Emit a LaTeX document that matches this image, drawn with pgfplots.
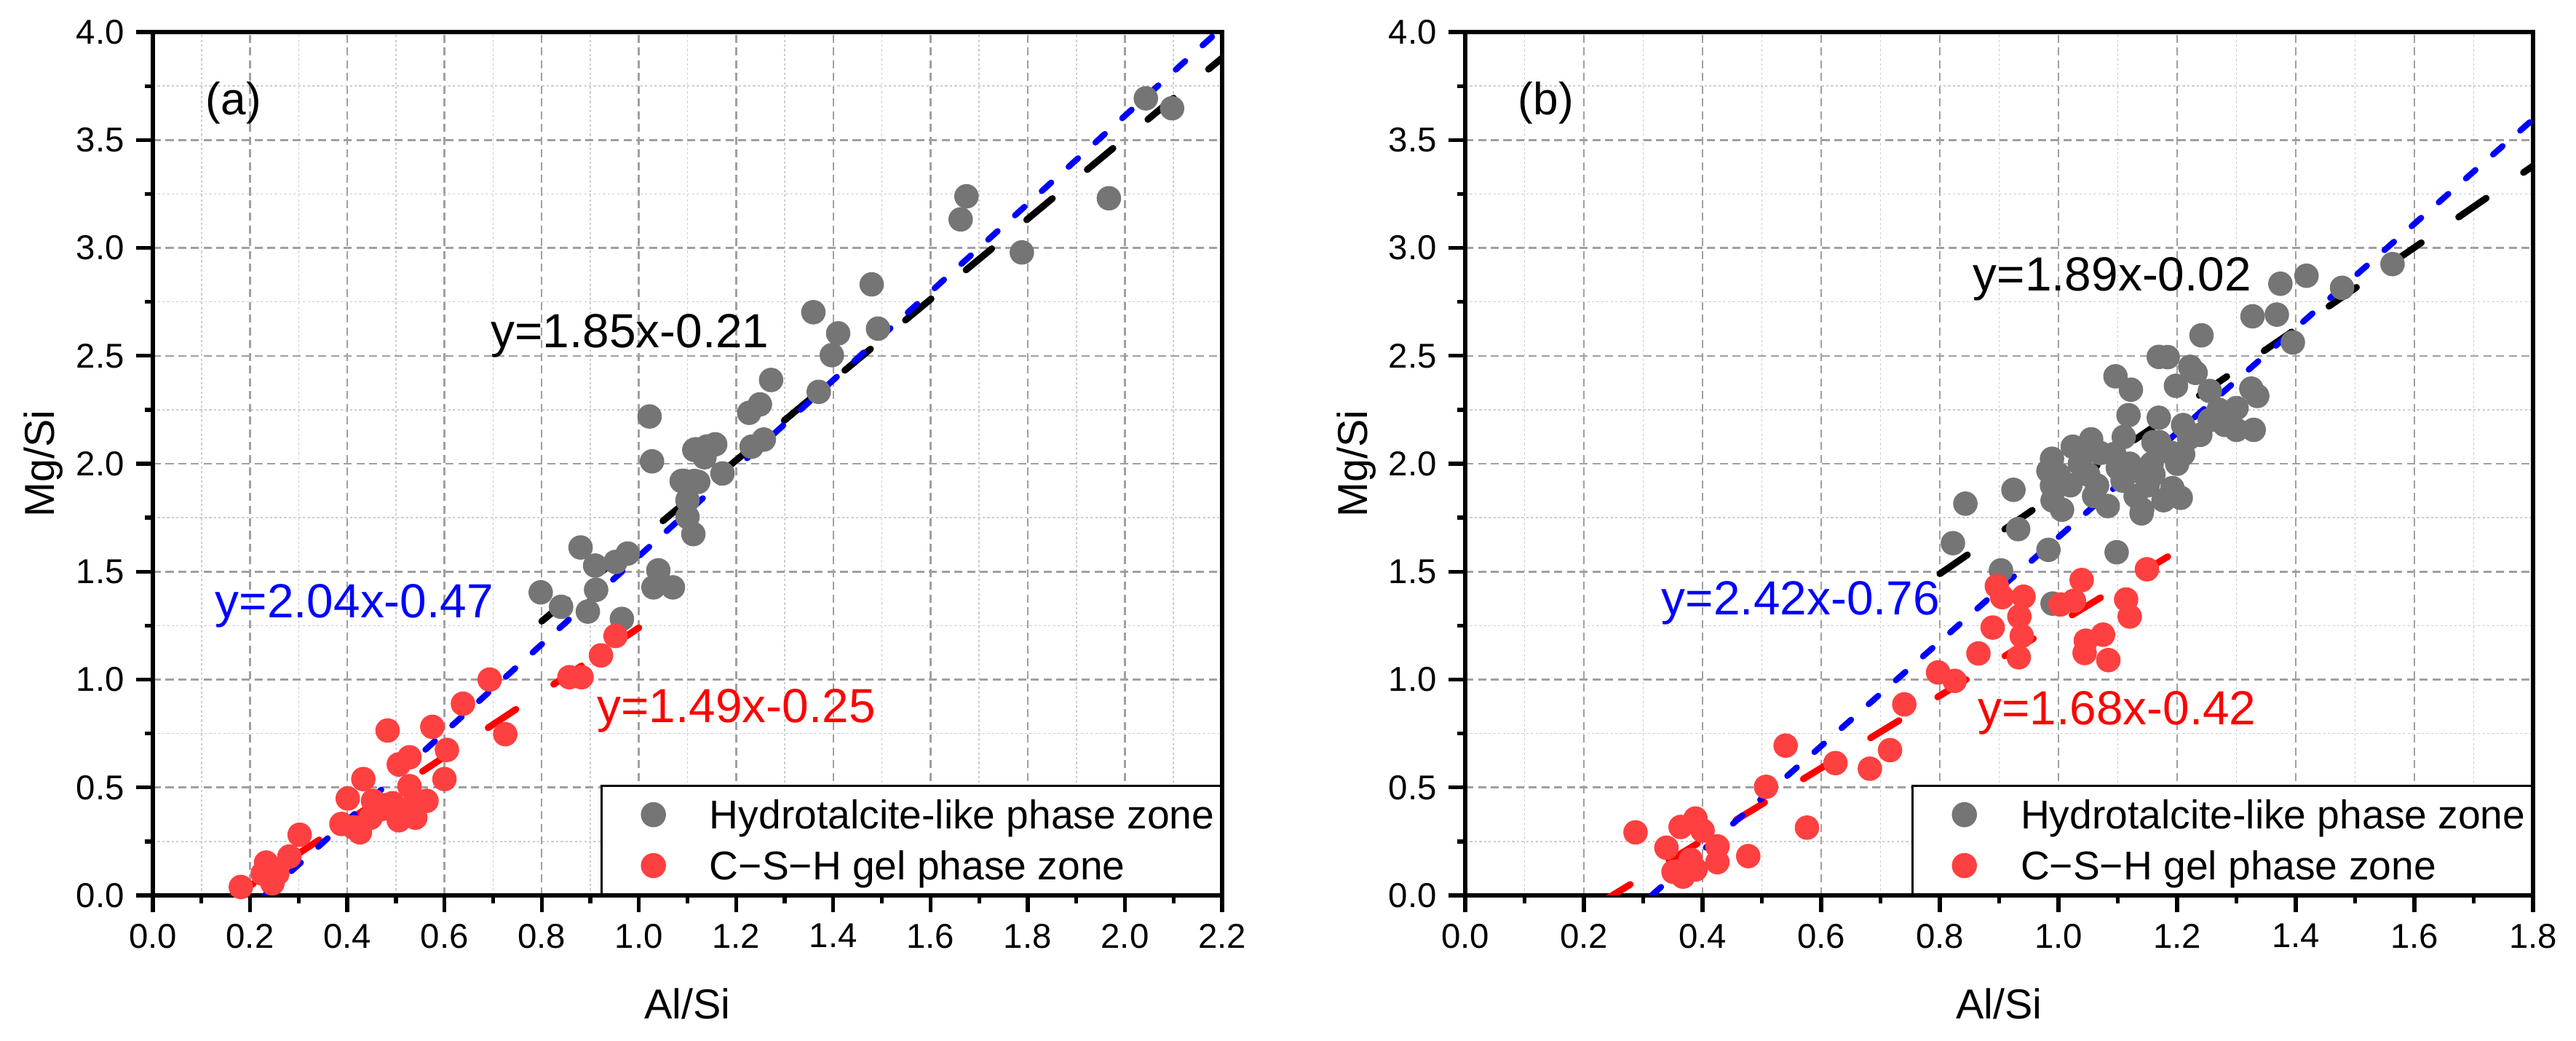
\documentclass[border=0pt]{standalone}
\usepackage{fontspec}
\setmainfont{Liberation Sans}
\usepackage{pgfplots}
\pgfplotsset{compat=1.18}
\definecolor{ptgray}{RGB}{117,117,117}
\definecolor{ptred}{RGB}{255,64,64}
\definecolor{majgrid}{RGB}{160,160,160}
\definecolor{mingrid}{RGB}{205,205,205}
\tikzset{
  eqlab/.style={anchor=base west, inner sep=0pt, font=\fontsize{14.3}{16}\selectfont},
  panlab/.style={font=\fontsize{13.5}{16}\selectfont},
}
\pgfplotsset{
  myaxis/.style={
    scale only axis, height=257.8pt, anchor=south west,
    xmin=0, ymin=0, ymax=4,
    ytick={0,0.5,...,4}, minor y tick num=1, minor x tick num=1,
    tick align=outside, xtick pos=left, ytick pos=left,
    major tick length=5pt, minor tick length=2.4pt,
    every tick/.style={black, line width=1.15pt},
    axis line style={line width=1.15pt},
    grid=both,
    major grid style={majgrid, line width=0.55pt, dash pattern=on 2.4pt off 1.4pt},
    minor grid style={mingrid, line width=0.35pt, dash pattern=on 0.7pt off 0.7pt},
    tick label style={font=\fontsize{10.3}{12}\selectfont},
    /pgf/number format/assume math mode=true,
    xticklabel style={/pgf/number format/.cd, fixed, fixed zerofill, precision=1},
    yticklabel style={/pgf/number format/.cd, fixed, fixed zerofill, precision=1},
    label style={font=\fontsize{12.5}{14}\selectfont},
    xlabel={Al/Si}, ylabel={Mg/Si},
    xlabel style={at={(axis description cs:0.5,-0.1433)}, anchor=base, inner sep=0pt},
    ylabel style={at={(axis description cs:-0.0919,0.5)}, anchor=base, inner sep=0pt},
    legend cell align=left,
    legend style={at={(1,0)}, anchor=south east, draw=black, line width=0.6pt,
      font=\fontsize{12}{14}\selectfont, inner xsep=0pt, inner ysep=4.3pt,
      row sep=6.6pt,
      nodes={inner xsep=2pt, inner ysep=0pt, text height=8.6pt, text depth=0pt},
      /tikz/every odd column/.append style={column sep=11pt}},
    legend image code/.code={\path (0pt,0pt) (18.7pt,0pt);
      \draw[mark repeat=2,mark phase=2,#1] plot coordinates {(0pt,0pt)(15.2pt,0pt)(18.7pt,0pt)};},
  },
  gpts/.style={only marks, mark=*, mark size=3.45pt, color=ptgray, mark options={draw=none, fill=ptgray}},
  rpts/.style={only marks, mark=*, mark size=3.45pt, color=ptred, mark options={draw=none, fill=ptred}},
  longdash/.style={line width=2pt, line cap=round, dash pattern=on 10pt off 13.5pt, forget plot},
  shortdash/.style={line width=1.8pt, line cap=round, dash pattern=on 3.8pt off 7pt, forget plot},
}
\begin{document}
\begin{tikzpicture}
\useasboundingbox (0,0) rectangle (769.3pt,310.85pt);
% ---------------- (a) ----------------
\begin{axis}[myaxis, at={(45.65pt,43.48pt)}, width=319.33pt,
  xmax=2.2, xtick={0,0.2,...,2.2}]
\addplot[gpts] table {
x y
0.798 1.404
0.840 1.337
0.880 1.612
0.910 1.528
0.912 1.416
0.895 1.315
0.952 1.545
0.977 1.584
0.965 1.281
1.022 2.219
1.027 2.011
1.040 1.506
1.030 1.427
1.070 1.427
1.092 1.921
1.122 1.916
1.100 1.831
1.100 1.753
1.112 1.674
1.117 2.067
1.140 2.080
1.157 2.090
1.172 1.955
1.227 2.236
1.249 2.275
1.272 2.388
1.232 2.079
1.257 2.112
1.370 2.333
1.359 2.702
1.410 2.604
1.492 2.626
1.397 2.503
1.479 2.831
1.662 3.132
1.674 3.239
1.788 2.979
1.967 3.230
2.043 3.693
2.097 3.647
1.114 2.064
1.088 1.920
1.114 1.920
1.135 2.030
};
\addlegendentry{Hydrotalcite-like phase zone}
\addplot[rpts] table {
x y
0.181 0.039
0.233 0.152
0.226 0.101
0.246 0.056
0.256 0.101
0.302 0.281
0.281 0.180
0.401 0.449
0.433 0.539
0.388 0.331
0.426 0.292
0.448 0.360
0.453 0.438
0.413 0.315
0.470 0.400
0.506 0.348
0.493 0.427
0.528 0.404
0.540 0.360
0.563 0.438
0.528 0.506
0.506 0.607
0.528 0.640
0.483 0.764
0.575 0.781
0.605 0.674
0.600 0.539
0.638 0.888
0.693 1.000
0.725 0.747
0.857 1.011
0.882 1.011
0.922 1.112
0.952 1.202
};
\addlegendentry{C\textminus S\textminus H gel phase zone}
\addplot[longdash, black] coordinates {(0.8,1.27) (2.2,3.88)};
\addplot[longdash, red] coordinates {(0.15,-0.03) (1.0,1.24)};
\addplot[shortdash, blue] coordinates {(0.23,0.0) (2.19,4.0)};
\node[panlab] at (axis cs:0.166,3.67) {(a)};
\node[eqlab, text=black] at (axis cs:0.694,2.537) {y=1.85x-0.21};
\node[eqlab, text=blue] at (axis cs:0.127,1.288) {y=2.04x-0.47};
\node[eqlab, text=red] at (axis cs:0.913,0.80) {y=1.49x-0.25};
\end{axis}
% ---------------- (b) ----------------
\begin{axis}[myaxis, at={(437.59pt,43.48pt)}, width=318.9pt,
  xmax=1.8, xtick={0,0.2,...,1.8}]
\addplot[gpts] table {
x y
0.843 1.815
0.822 1.632
0.924 1.879
0.932 1.697
0.903 1.506
0.983 1.601
1.006 1.787
0.989 1.899
0.989 2.023
0.983 1.967
1.024 2.079
1.055 2.113
1.036 2.000
1.065 1.899
1.083 1.804
1.098 1.590
1.096 2.405
1.122 2.343
1.118 2.225
1.110 2.124
1.094 2.045
1.108 1.922
1.141 1.787
1.135 1.967
1.169 2.495
0.990 1.352
1.140 1.770
1.563 2.925
1.418 2.871
1.374 2.834
1.478 2.815
1.327 2.683
1.368 2.691
1.241 2.595
1.395 2.562
1.184 2.494
1.222 2.449
1.231 2.421
1.198 2.361
1.255 2.337
1.325 2.348
1.335 2.314
1.300 2.258
1.329 2.157
1.300 2.157
1.255 2.202
1.239 2.134
1.210 2.179
1.210 2.044
1.169 2.213
1.157 2.000
1.192 1.887
1.206 1.842
1.177 1.831
1.050 1.950
1.070 2.050
1.120 2.000
1.150 1.900
1.160 2.100
1.130 1.850
1.060 1.850
1.000 1.950
1.020 1.900
1.170 2.100
1.190 2.050
1.220 2.120
1.200 2.000
1.160 1.950
1.270 2.250
1.280 2.180
1.100 1.980
1.040 2.050
0.990 1.830
};
\addlegendentry{Hydrotalcite-like phase zone}
\addplot[rpts] table {
x y
0.287 0.292
0.339 0.221
0.363 0.317
0.388 0.356
0.400 0.300
0.351 0.109
0.367 0.087
0.388 0.120
0.380 0.165
0.372 0.125
0.425 0.154
0.425 0.227
0.477 0.182
0.507 0.503
0.540 0.694
0.576 0.314
0.624 0.613
0.682 0.587
0.716 0.673
0.740 0.885
0.797 1.033
0.825 0.994
0.865 1.121
0.889 1.241
0.896 1.433
0.905 1.382
0.941 1.384
0.934 1.292
0.938 1.202
0.933 1.103
1.003 1.348
1.026 1.365
1.039 1.461
1.046 1.180
1.075 1.208
1.044 1.123
1.084 1.090
1.114 1.371
1.120 1.292
1.149 1.511
};
\addlegendentry{C\textminus S\textminus H gel phase zone}
\addplot[longdash, black] coordinates {(0.8,1.49) (1.8,3.38)};
\addplot[longdash, red] coordinates {(0.23,-0.03) (1.2,1.596)};
\addplot[shortdash, blue] coordinates {(0.314,0.0) (1.8,3.596)};
\node[panlab] at (axis cs:0.136,3.67) {(b)};
\node[eqlab, text=black] at (axis cs:0.855,2.80) {y=1.89x-0.02};
\node[eqlab, text=blue] at (axis cs:0.330,1.30) {y=2.42x-0.76};
\node[eqlab, text=red] at (axis cs:0.863,0.79) {y=1.68x-0.42};
\end{axis}
\end{tikzpicture}
\end{document}
